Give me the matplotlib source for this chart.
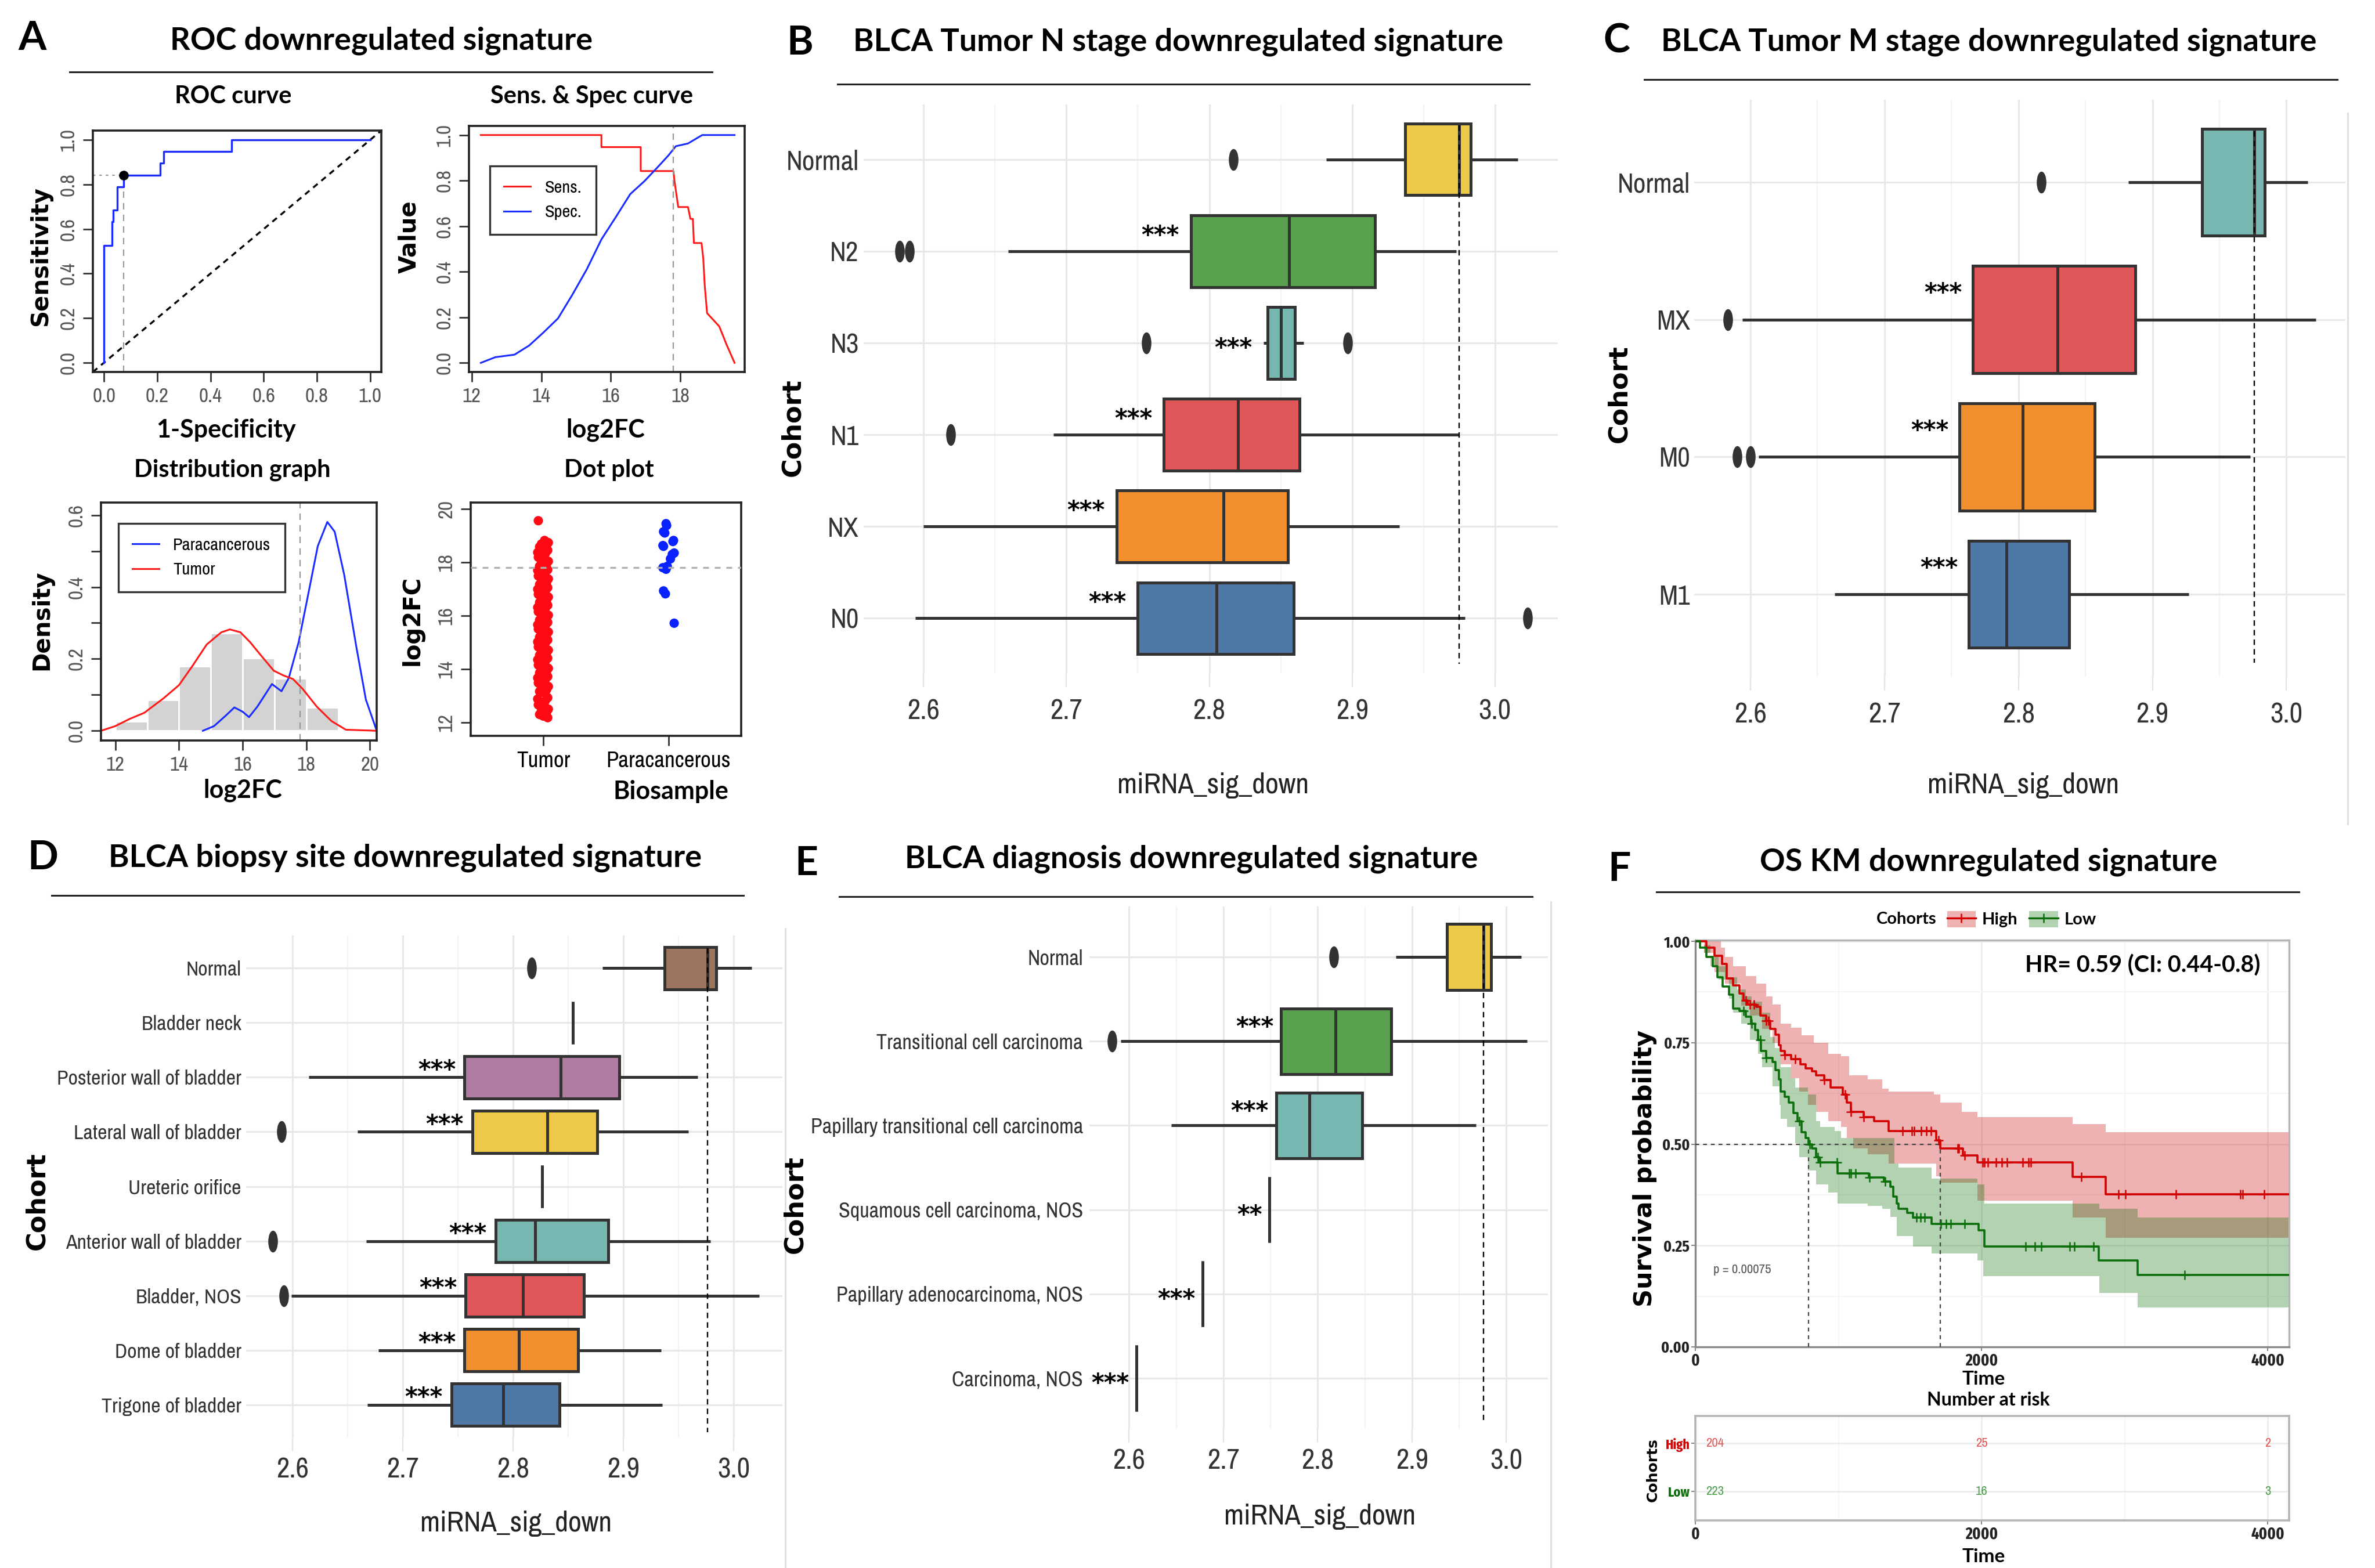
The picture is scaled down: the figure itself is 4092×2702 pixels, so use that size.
import numpy as np
import matplotlib
matplotlib.use('Agg')
import matplotlib.pyplot as plt
from matplotlib.path import Path
from matplotlib.transforms import Affine2D, offset_copy
from matplotlib.lines import Line2D
from matplotlib.patches import Patch
from matplotlib import font_manager as fm
from matplotlib.font_manager import FontProperties
import warnings, logging
warnings.filterwarnings('ignore')
logging.getLogger('matplotlib.font_manager').setLevel(logging.ERROR)

TITLE = ['Lato', 'DejaVu Sans']
VB = ['DejaVu Sans']
plt.rcParams['font.family'] = ['Liberation Sans', 'DejaVu Sans']

# ======================= DATA =======================
# ---- Panel A: ROC ----
roc_fpr = [0, 0, 0.03, 0.03, 0.035, 0.035, 0.05, 0.05, 0.073, 0.073, 0.21, 0.21, 0.224, 0.224, 0.48, 0.48, 1.0]
roc_tpr = [0, 0.526, 0.526, 0.632, 0.632, 0.684, 0.684, 0.789, 0.789, 0.842, 0.842, 0.895, 0.895, 0.947, 0.947, 1.0, 1.0]
roc_best_fpr = 0.073
roc_best_tpr = 0.842
cutoff = 17.8
# ---- Sens & Spec ----
sens_x = [12.26, 15.73, 15.73, 16.86, 16.86, 17.80, 17.83, 17.94, 18.22, 18.29, 18.36, 18.39, 18.61, 18.66, 18.70, 18.77, 18.91, 19.12, 19.33, 19.56]
sens_y = [1.0, 1.0, 0.947, 0.947, 0.842, 0.842, 0.80, 0.684, 0.684, 0.632, 0.632, 0.526, 0.526, 0.457, 0.343, 0.218, 0.195, 0.16, 0.08, 0.0]
spec_x = [12.26, 12.68, 13.23, 13.65, 14.06, 14.48, 14.89, 15.31, 15.73, 16.14, 16.56, 16.97, 17.39, 17.66, 17.87, 18.22, 18.63, 19.56]
spec_y = [0.0, 0.025, 0.036, 0.076, 0.133, 0.195, 0.298, 0.411, 0.542, 0.639, 0.741, 0.798, 0.866, 0.911, 0.951, 0.963, 1.0, 1.0]
# ---- Distribution ----
hist_edges = [12, 13, 14, 15, 16, 17, 18, 19]
hist_h = [0.027, 0.0855, 0.18, 0.272, 0.202, 0.146, 0.065]
tumor_dx = [11.55, 12.0, 12.45, 12.91, 13.51, 14.0, 14.42, 14.87, 15.33, 15.6, 15.93, 16.23, 16.6, 16.98, 17.28, 17.58, 17.88, 18.33, 18.79, 19.24, 20.2]
tumor_dy = [0.0, 0.013, 0.033, 0.05, 0.09, 0.127, 0.18, 0.24, 0.274, 0.282, 0.274, 0.247, 0.207, 0.167, 0.154, 0.144, 0.117, 0.067, 0.027, 0.003, 0.0]
para_dx = [14.75, 15.1, 15.48, 15.74, 16.0, 16.2, 16.46, 16.92, 17.22, 17.45, 17.76, 18.06, 18.36, 18.66, 18.89, 19.19, 19.57, 19.87, 20.2]
para_dy = [0.0, 0.013, 0.043, 0.065, 0.053, 0.038, 0.067, 0.13, 0.11, 0.147, 0.247, 0.38, 0.514, 0.581, 0.554, 0.434, 0.234, 0.087, 0.003]
# ---- Dot plot ----
dot_groups = ['Tumor', 'Paracancerous']
tumor_fc = [19.56, 18.82, 18.74, 18.69, 18.61, 18.58, 18.49, 18.45, 18.37, 18.31, 18.22, 18.19, 18.1, 18.04, 17.98,
            17.93, 17.86, 17.79, 17.72, 17.7, 17.61, 17.55, 17.49, 17.42, 17.38, 17.3, 17.21, 17.17, 17.12, 17.05,
            16.99, 16.9, 16.86, 16.8, 16.73, 16.7, 16.62, 16.55, 16.5, 16.44, 16.39, 16.31, 16.26, 16.2, 16.15,
            16.08, 16.02, 15.97, 15.9, 15.84, 15.81, 15.75, 15.66, 15.6, 15.57, 15.5, 15.44, 15.39, 15.32, 15.28,
            15.2, 15.14, 15.09, 15.02, 14.96, 14.9, 14.83, 14.79, 14.71, 14.66, 14.6, 14.52, 14.47, 14.41, 14.35,
            14.28, 14.22, 14.15, 14.11, 14.03, 13.97, 13.9, 13.86, 13.78, 13.72, 13.67, 13.6, 13.53, 13.48, 13.4,
            13.35, 13.29, 13.22, 13.16, 13.12, 12.93, 12.88, 12.8, 12.72, 12.66, 12.57, 12.5, 12.44, 12.36, 12.3,
            12.24, 12.18]
tumor_jit = [-0.04, 0.01, 0.04, -0.015, 0.025, -0.03, 0.0, 0.035, -0.045, 0.015, -0.005]
para_fc = [19.45, 19.38, 19.15, 19.1, 18.82, 18.78, 18.63, 18.6, 18.35, 18.3, 18.13, 17.85, 17.8, 17.74, 16.93, 16.82, 15.72]
para_jit = [-0.02, -0.015, -0.04, -0.03, 0.04, 0.035, -0.045, -0.04, 0.045, 0.03, 0.015, -0.01, -0.045, -0.02, -0.04, -0.025, 0.045]

# ---- Panel B: N stage ----
b_cats = ['Normal', 'N2', 'N3', 'N1', 'NX', 'N0']
b_whislo = [2.882, 2.659, 2.838, 2.691, 2.600, 2.594]
b_q1 = [2.937, 2.787, 2.841, 2.768, 2.735, 2.750]
b_med = [2.975, 2.856, 2.850, 2.820, 2.810, 2.805]
b_q3 = [2.983, 2.916, 2.860, 2.863, 2.855, 2.859]
b_whishi = [3.016, 2.973, 2.866, 2.975, 2.933, 2.979]
b_fliers = [[2.817], [2.583, 2.590], [2.756, 2.897], [2.619], [], [3.023]]
b_stars = ['', '***', '***', '***', '***', '***']
b_colors = ['#EDC948', '#59A14F', '#76B7B2', '#E15759', '#F28E2B', '#4E79A7']

# ---- Panel C: M stage ----
c_cats = ['Normal', 'MX', 'M0', 'M1']
c_whislo = [2.882, 2.594, 2.606, 2.663]
c_q1 = [2.937, 2.766, 2.756, 2.763]
c_med = [2.976, 2.829, 2.803, 2.791]
c_q3 = [2.984, 2.887, 2.857, 2.838]
c_whishi = [3.016, 3.022, 2.973, 2.927]
c_fliers = [[2.817], [2.583], [2.590, 2.600], []]
c_stars = ['', '***', '***', '***']
c_colors = ['#76B7B2', '#E15759', '#F28E2B', '#4E79A7']

# ---- Panel D: biopsy site ----
d_cats = ['Normal', 'Bladder neck', 'Posterior wall of bladder', 'Lateral wall of bladder', 'Ureteric orifice',
          'Anterior wall of bladder', 'Bladder, NOS', 'Dome of bladder', 'Trigone of bladder']
d_whislo = [2.881, 2.854, 2.615, 2.659, 2.826, 2.667, 2.599, 2.678, 2.668]
d_q1 = [2.937, 2.854, 2.756, 2.763, 2.826, 2.784, 2.757, 2.756, 2.744]
d_med = [2.976, 2.854, 2.843, 2.831, 2.826, 2.820, 2.809, 2.805, 2.791]
d_q3 = [2.984, 2.854, 2.896, 2.876, 2.826, 2.886, 2.864, 2.859, 2.842]
d_whishi = [3.016, 2.854, 2.967, 2.959, 2.826, 2.979, 3.023, 2.934, 2.935]
d_fliers = [[2.817], [], [], [2.590], [], [2.582], [2.592], [], []]
d_stars = ['', '', '***', '***', '', '***', '***', '***', '***']
d_colors = ['#9C755F', '#FF9DA7', '#B07AA1', '#EDC948', '#59A14F', '#76B7B2', '#E15759', '#F28E2B', '#4E79A7']

# ---- Panel E: diagnosis ----
e_cats = ['Normal', 'Transitional cell carcinoma', 'Papillary transitional cell carcinoma',
          'Squamous cell carcinoma, NOS', 'Papillary adenocarcinoma, NOS', 'Carcinoma, NOS']
e_whislo = [2.883, 2.591, 2.645, 2.749, 2.678, 2.608]
e_q1 = [2.937, 2.761, 2.756, 2.749, 2.678, 2.608]
e_med = [2.976, 2.819, 2.791, 2.749, 2.678, 2.608]
e_q3 = [2.984, 2.878, 2.847, 2.749, 2.678, 2.608]
e_whishi = [3.016, 3.022, 2.968, 2.749, 2.678, 2.608]
e_fliers = [[2.817], [2.582], [], [], [], []]
e_stars = ['', '***', '***', '**', '***', '***']
e_colors = ['#EDC948', '#59A14F', '#76B7B2', '#E15759', '#F28E2B', '#4E79A7']

# ---- Panel F: KM ----
high_t = [0, 77, 134, 185, 221, 265, 308, 337, 366, 424, 453, 496, 525, 561, 583, 597, 626, 669, 735, 771, 814, 843,
          901, 944, 1031, 1060, 1089, 1176, 1248, 1349, 1682, 1711, 1870, 1971, 2637, 2868, 4150]
high_s = [1.0, 0.985, 0.965, 0.945, 0.908, 0.891, 0.871, 0.854, 0.844, 0.838, 0.817, 0.804, 0.784, 0.770, 0.744, 0.730,
          0.720, 0.710, 0.697, 0.687, 0.680, 0.670, 0.658, 0.640, 0.623, 0.603, 0.579, 0.566, 0.556, 0.532, 0.509,
          0.489, 0.472, 0.455, 0.419, 0.377, 0.377]
low_t = [0, 33, 77, 120, 156, 192, 236, 265, 308, 351, 388, 416, 438, 460, 496, 539, 561, 583, 597, 626, 655, 684, 713,
         742, 771, 792, 814, 843, 865, 995, 1212, 1320, 1364, 1385, 1407, 1421, 1479, 1523, 1653, 1978, 2022, 2820,
         3091, 4150]
low_s = [1.0, 0.985, 0.962, 0.938, 0.911, 0.888, 0.868, 0.834, 0.828, 0.814, 0.797, 0.781, 0.757, 0.730, 0.713, 0.703,
         0.683, 0.660, 0.630, 0.616, 0.603, 0.576, 0.556, 0.529, 0.515, 0.500, 0.489, 0.468, 0.455, 0.428, 0.418, 0.408,
         0.395, 0.371, 0.354, 0.341, 0.331, 0.319, 0.304, 0.287, 0.248, 0.213, 0.178, 0.178]
high_up_t = [0, 178, 207, 265, 351, 424, 496, 539, 597, 669, 742, 829, 930, 1017, 1074, 1205, 1306, 1349, 1667, 1711,
             1862, 1971, 2637, 2868, 4150]
high_up_v = [1.0, 0.985, 0.962, 0.938, 0.915, 0.895, 0.864, 0.844, 0.797, 0.787, 0.768, 0.750, 0.723, 0.717, 0.670,
             0.660, 0.636, 0.630, 0.623, 0.603, 0.579, 0.566, 0.550, 0.529, 0.529]
high_lo_t = [0, 62, 134, 207, 322, 380, 467, 539, 597, 669, 727, 785, 843, 930, 1017, 1060, 1103, 1205, 1349, 1682,
             1711, 1971, 2637, 2868, 4150]
high_lo_v = [1.0, 0.972, 0.925, 0.895, 0.841, 0.817, 0.784, 0.750, 0.697, 0.663, 0.630, 0.596, 0.579, 0.556, 0.542,
             0.515, 0.489, 0.475, 0.452, 0.421, 0.405, 0.360, 0.319, 0.269, 0.269]
low_up_t = [0, 62, 106, 163, 221, 294, 351, 395, 467, 525, 554, 597, 669, 698, 785, 843, 872, 973, 1017, 1393, 1421,
            1653, 1971, 2022, 2823, 3091, 4150]
low_up_v = [1.0, 0.992, 0.965, 0.938, 0.911, 0.881, 0.864, 0.851, 0.824, 0.764, 0.737, 0.690, 0.663, 0.640, 0.623,
            0.556, 0.542, 0.532, 0.515, 0.452, 0.442, 0.415, 0.401, 0.354, 0.340, 0.319, 0.319]
low_lo_t = [0, 62, 106, 163, 236, 265, 322, 380, 438, 467, 539, 590, 597, 640, 698, 727, 785, 843, 930, 995, 1205,
            1306, 1364, 1407, 1523, 1653, 1971, 2014, 2823, 3091, 4150]
low_lo_v = [1.0, 0.972, 0.938, 0.905, 0.858, 0.824, 0.797, 0.757, 0.723, 0.690, 0.643, 0.596, 0.562, 0.542, 0.502,
            0.468, 0.435, 0.401, 0.381, 0.354, 0.348, 0.341, 0.321, 0.274, 0.247, 0.230, 0.213, 0.175, 0.133, 0.098,
            0.098]
high_cens = [351, 380, 409, 496, 510, 626, 698, 901, 1045, 1089, 1176, 1450, 1515, 1530, 1580, 1616, 1645, 1700, 1834,
             1841, 1884, 2007, 2022, 2043, 2101, 2140, 2177, 2289, 2329, 2343, 2698, 2958, 3004, 3360, 3811, 3825, 3977]
low_cens = [336, 395, 453, 496, 727, 800, 857, 872, 988, 1074, 1089, 1118, 1219, 1328, 1544, 1573, 1602, 1718, 1754,
            1783, 1884, 2307, 2375, 2416, 2618, 2647, 2784, 3420]
km_groups = ['High', 'Low']
risk_times = [0, 2000, 4000]
risk_high = [204, 25, 2]
risk_low = [223, 16, 3]
hr_text = 'HR= 0.59 (CI: 0.44-0.8)'
p_text = 'p = 0.00075'


# ======================= FONTS (most condensed sans available) =======================
def _weight(w):
    if isinstance(w, str):
        return fm.weight_dict.get(w.lower(), 400)
    return int(w)


def find_narrow(bold):
    prefs = ['Liberation Sans Narrow', 'Arial Narrow', 'Noto Sans', 'Roboto', 'Open Sans', 'DejaVu Sans']
    found = []
    for f in fm.fontManager.ttflist:
        nm = f.name
        low = nm.lower()
        if 'mono' in low or 'serif' in low or 'cjk' in low or 'display' in low:
            continue
        fn = f.fname.lower().replace('-', '').replace('_', '').replace(' ', '')
        st = str(f.stretch).lower().replace('-', '')
        if 'ultra' in fn or 'ultra' in st or 'italic' in fn or f.style != 'normal':
            continue
        if 'extracondensed' in fn or 'extracondensed' in st:
            degree = 0
        elif 'semicondensed' in fn or 'semicondensed' in st:
            degree = 2
        elif 'condensed' in fn or 'condensed' in st or 'narrow' in fn or 'narrow' in low:
            degree = 1
        else:
            continue
        if 'narrow' in low:
            degree = 0
        w = _weight(f.weight)
        if bold and w < 600:
            continue
        if not bold and not (350 <= w <= 500):
            continue
        rank = next((i for i, p in enumerate(prefs) if nm.startswith(p)), len(prefs))
        found.append((degree, rank, abs(w - (700 if bold else 400)), f.fname))
    if not found:
        return None
    found.sort()
    return found[0][3]


_nr = find_narrow(False)
_nb = find_narrow(True)
NFP = FontProperties(fname=_nr) if _nr else FontProperties(family=['Liberation Sans', 'DejaVu Sans'], weight='normal')
NFPB = FontProperties(fname=_nb) if _nb else FontProperties(family=['Liberation Sans', 'DejaVu Sans'], weight='bold')

# ======================= FIGURE =======================
W, H = 4092, 2702
fig = plt.figure(figsize=(W / 100, H / 100), dpi=100)
fig.patch.set_facecolor('white')
REND = fig.canvas.get_renderer()


def sized(fp, size):
    p = fp.copy()
    p.set_size(size)
    return p


def fit_size(s, fp, target, maxsize):
    t = fig.text(0, 0, s, fontproperties=sized(fp, 100))
    w = t.get_window_extent(renderer=REND).width
    t.remove()
    return min(maxsize, 100.0 * target / w)


def fitted(s, fp, target, maxsize):
    return sized(fp, fit_size(s, fp, target, maxsize))


def add_ax(l, t, r, b):
    return fig.add_axes([l / W, 1 - b / H, (r - l) / W, (b - t) / H])


def ftext(x, y, s, **kw):
    kw.setdefault('ha', 'center')
    kw.setdefault('va', 'center')
    return fig.text(x / W, 1 - y / H, s, **kw)


def fline(x0, x1, y0, y1, **kw):
    fig.add_artist(Line2D([x0 / W, x1 / W], [1 - y0 / H, 1 - y1 / H], transform=fig.transFigure, **kw))


def letter(x, y, s):
    ftext(x, y, s, fontsize=50, fontweight='bold', family=TITLE)


def title(x, y, s, x0, x1, yl):
    ftext(x, y, s, fontsize=39, fontweight='bold', family=TITLE)
    fline(x0, x1, yl, yl, color='#222222', lw=2.2)


# ---- titles & letters ----
letter(56, 67, 'A'); title(657, 70, 'ROC downregulated signature', 120, 1227, 124)
letter(1378, 74, 'B'); title(2030, 72, 'BLCA Tumor N stage downregulated signature', 1443, 2635, 145)
letter(2785, 71, 'C'); title(3427, 72, 'BLCA Tumor M stage downregulated signature', 2833, 4027, 137)
letter(74, 1478, 'D'); title(698, 1478, 'BLCA biopsy site downregulated signature', 89, 1281, 1543)
letter(1389, 1489, 'E'); title(2053, 1480, 'BLCA diagnosis downregulated signature', 1446, 2640, 1545)
letter(2790, 1498, 'F'); title(3426, 1485, 'OS KM downregulated signature', 2854, 3961, 1537)

# faint separators
fline(1353, 1353, 1600, 2702, color='#dddddd', lw=2)
fline(2672, 2672, 1554, 2702, color='#dddddd', lw=2)
fline(4045, 4045, 195, 1420, color='#dddddd', lw=2)

# ======================= PANEL A (base R style) =======================
TICK_A = fitted('0.0', NFP, 40, 26)


def style_r(ax):
    for sp in ax.spines.values():
        sp.set_linewidth(2.6)
        sp.set_color('#222222')
    ax.tick_params(length=12, width=2, pad=7, colors='#333333', labelcolor='#555555')
    ax.tick_params(axis='y', labelrotation=90)
    for lab in ax.get_xticklabels() + ax.get_yticklabels():
        lab.set_fontproperties(TICK_A)
    for lab in ax.get_yticklabels():
        lab.set_va('center')


def sub_title(x, y, s):
    ftext(x, y, s, fontsize=30, fontweight='bold', family=TITLE)


def r_xlabel(x, y, s):
    ftext(x, y, s, fontsize=31, fontweight='bold', family=TITLE)


def r_ylabel(x, y, s):
    ftext(x, y, s, fontsize=29, fontweight='bold', family=VB, rotation=90)


# ROC curve
sub_title(402, 166, 'ROC curve')
ax = add_ax(160, 225, 657, 641)
ax.plot(roc_fpr, roc_tpr, color='#1a2cff', lw=2.4, zorder=3)
ax.axline((0, 0), (1, 1), color='black', ls=(0, (3, 2.5)), lw=2.4)
ax.plot([roc_best_fpr, roc_best_fpr], [-0.042, roc_best_tpr], color='#999999', ls=(0, (5, 4)), lw=1.6)
ax.plot([-0.042, roc_best_fpr], [roc_best_tpr, roc_best_tpr], color='#999999', ls=(0, (2, 3)), lw=1.6)
ax.plot([roc_best_fpr], [roc_best_tpr], 'o', color='black', ms=11, zorder=4)
ax.set_xlim(-0.042, 1.042); ax.set_ylim(-0.042, 1.042)
tk = [0, 0.2, 0.4, 0.6, 0.8, 1.0]
ax.set_xticks(tk); ax.set_xticklabels(['%.1f' % v for v in tk])
ax.set_yticks(tk); ax.set_yticklabels(['%.1f' % v for v in tk])
style_r(ax)
r_xlabel(390, 741, '1-Specificity')
r_ylabel(70, 441, 'Sensitivity')

LEG_FP = fitted('Paracancerous', NFP, 168, 26)

# Sens & Spec curve
sub_title(1020, 166, 'Sens. & Spec curve')
ax = add_ax(808, 217, 1283, 641)
ax.plot(sens_x, sens_y, color='#ff1a1a', lw=2.2, label='Sens.')
ax.plot(spec_x, spec_y, color='#1a2cff', lw=2.2, label='Spec.')
ax.axvline(cutoff, color='#999999', ls=(0, (5, 4)), lw=1.6)
ax.set_xlim(11.92, 19.85); ax.set_ylim(-0.04, 1.04)
ax.set_xticks([12, 14, 16, 18]); ax.set_xticklabels(['12', '14', '16', '18'])
ax.set_yticks(tk); ax.set_yticklabels(['%.1f' % v for v in tk])
style_r(ax)
lg = ax.legend(loc='upper left', bbox_to_anchor=(0.044, 0.874), prop=LEG_FP, frameon=True, fancybox=False,
               edgecolor='black', handlelength=1.5, borderpad=0.8, labelspacing=0.5)
lg.get_frame().set_linewidth(2.4)
r_xlabel(1043, 741, 'log2FC')
r_ylabel(705, 408, 'Value')

# Distribution graph
sub_title(400, 810, 'Distribution graph')
ax = add_ax(174, 866, 649, 1276)
ax.bar(hist_edges[:-1], hist_h, width=np.diff(hist_edges), align='edge', color='#d3d3d3', edgecolor='white', lw=2)
ax.plot(para_dx, para_dy, color='#1a2cff', lw=2.2, label='Paracancerous')
ax.plot(tumor_dx, tumor_dy, color='#ff1a1a', lw=2.2, label='Tumor')
ax.axvline(cutoff, color='#999999', ls=(0, (5, 4)), lw=1.6)
ax.set_xlim(11.55, 20.21); ax.set_ylim(-0.027, 0.635)
ax.set_xticks([12, 14, 16, 18, 20]); ax.set_xticklabels(['12', '14', '16', '18', '20'])
yt = [0, 0.1, 0.2, 0.3, 0.4, 0.5, 0.6]
ax.set_yticks(yt); ax.set_yticklabels(['0.0', '', '0.2', '', '0.4', '', '0.6'])
style_r(ax)
lg = ax.legend(loc='upper left', bbox_to_anchor=(0.031, 0.95), prop=LEG_FP, frameon=True, fancybox=False,
               edgecolor='black', handlelength=1.5, borderpad=0.8, labelspacing=0.5)
lg.get_frame().set_linewidth(2.4)
r_xlabel(418, 1362, 'log2FC')
r_ylabel(72, 1069, 'Density')

# Dot plot
sub_title(1049, 810, 'Dot plot')
ax = add_ax(811, 866, 1277, 1268)
tx = [1 + tumor_jit[i % len(tumor_jit)] for i in range(len(tumor_fc))]
ax.scatter(tx, tumor_fc, s=135, color='#ff0a14', edgecolors='none', zorder=3)
px = [2 + j for j in para_jit]
ax.scatter(px, para_fc, s=135, color='#0a22ff', edgecolors='none', zorder=3)
ax.axhline(cutoff, color='#b0b0b0', ls=(0, (3, 3)), lw=2.4, zorder=4)
ax.set_xlim(0.42, 2.58); ax.set_ylim(11.5, 20.24)
ax.set_yticks([12, 14, 16, 18, 20]); ax.set_yticklabels(['12', '14', '16', '18', '20'])
ax.set_xticks([1, 2]); ax.set_xticklabels(dot_groups)
style_r(ax)
for lab in ax.get_xticklabels():
    lab.set_family(TITLE); lab.set_fontweight('bold'); lab.set_fontsize(28); lab.set_color('black')
r_xlabel(1156, 1364, 'Biosample')
r_ylabel(711, 1069, 'log2FC')

# ======================= PANELS B-E (ggplot style) =======================
EDGE = '#333333'
ELL = Path.unit_circle().transformed(Affine2D().scale(0.42, 1.0))
XT_FP = fitted('2.6', NFP, 56, 40)
XL_FP = fitted('miRNA_sig_down', NFP, 330, 46)


def gg_panel(rect, cats, whislo, q1, med, q3, whishi, fliers, stars, colors, ylab_fp, xpad, ypad):
    ax = add_ax(*rect)
    n = len(cats)
    stats = [dict(med=med[i], q1=q1[i], q3=q3[i], whislo=whislo[i], whishi=whishi[i], fliers=fliers[i],
                  label=cats[i]) for i in range(n)]
    pos = np.arange(n)
    res = ax.bxp(stats, positions=pos, widths=0.78, orientation='horizontal', patch_artist=True, showcaps=False,
                 manage_ticks=False,
                 boxprops=dict(edgecolor=EDGE, linewidth=3.6),
                 whiskerprops=dict(color=EDGE, linewidth=3.6, solid_capstyle='butt'),
                 medianprops=dict(color=EDGE, linewidth=3.6, solid_capstyle='butt'),
                 flierprops=dict(marker=ELL, markerfacecolor=EDGE, markeredgecolor=EDGE, markersize=26,
                                 linestyle='none'))
    for b, c in zip(res['boxes'], colors):
        b.set_facecolor(c)
    ax.set_xlim(2.558, 3.044)
    ax.set_ylim(n - 1 + 0.6, -0.6)
    ax.set_xticks([2.6, 2.7, 2.8, 2.9, 3.0])
    ax.set_xticklabels(['2.6', '2.7', '2.8', '2.9', '3.0'], fontproperties=XT_FP, color='#333333')
    ax.set_xticks([2.65, 2.75, 2.85, 2.95], minor=True)
    ax.set_yticks(pos)
    ax.set_yticklabels(cats, fontproperties=ylab_fp, color='#333333')
    ax.grid(True, which='major', axis='both', color='#e8e8e8', lw=2.2)
    ax.grid(True, which='minor', axis='x', color='#f3f3f3', lw=1.6)
    ax.set_axisbelow(True)
    for sp in ax.spines.values():
        sp.set_visible(False)
    ax.tick_params(which='minor', length=0)
    ax.tick_params(axis='y', length=0, pad=ypad)
    ax.tick_params(axis='x', which='major', length=17, width=1.6, color='#e3e3e3', pad=xpad)
    ax.vlines(med[0], -0.37, n - 1 + 0.5, colors='black', linestyles=(0, (4, 3)), lw=1.7, zorder=6)
    tr = offset_copy(ax.transData, fig=fig, y=-16, units='points')
    for i in range(n):
        if not stars[i]:
            continue
        spread = q3[i] - q1[i]
        if spread > 0.03:
            x, y = q1[i] - 0.008, i - 0.23
        else:
            x, y = min(whislo[i], q1[i]) - 0.008, i
        ax.text(x, y, stars[i], ha='right', va='baseline', transform=tr, family=VB, fontweight='bold',
                fontsize=30, color='black', zorder=7)
    return ax


def gg_xlabel(x, y):
    ftext(x, y, 'miRNA_sig_down', fontproperties=XL_FP, color='#222222')


def gg_ylabel(x, y):
    ftext(x, y, 'Cohort', fontsize=32, fontweight='bold', family=VB, rotation=90)


BC_FP = fitted('Normal', NFP, 125, 44)
D_FP = fitted('Posterior wall of bladder', NFP, 318, 38)
E_FP = fitted('Papillary transitional cell carcinoma', NFP, 470, 38)

gg_panel((1488, 180, 2684, 1160), b_cats, b_whislo, b_q1, b_med, b_q3, b_whishi, b_fliers, b_stars, b_colors,
         BC_FP, 14, 6)
gg_xlabel(2090, 1354); gg_ylabel(1366, 737)

gg_panel((2919, 172, 4041, 1166), c_cats, c_whislo, c_q1, c_med, c_q3, c_whishi, c_fliers, c_stars, c_colors,
         BC_FP, 14, 5)
gg_xlabel(3486, 1354); gg_ylabel(2790, 679)

gg_panel((424, 1612, 1348, 2477), d_cats, d_whislo, d_q1, d_med, d_q3, d_whishi, d_fliers, d_stars, d_colors,
         D_FP, 7, 6)
gg_xlabel(889, 2626); gg_ylabel(64, 2070)

gg_panel((1877, 1562, 2667, 2462), e_cats, e_whislo, e_q1, e_med, e_q3, e_whishi, e_fliers, e_stars, e_colors,
         E_FP, 7, 8)
gg_xlabel(2274, 2614); gg_ylabel(1370, 2076)

# ======================= PANEL F (KM) =======================
RED_L, GRN_L = '#d20000', '#0b6e0b'
RED_F, GRN_F = '#c80000', '#006c00'


def step_eval(t, v, q):
    idx = np.searchsorted(np.asarray(t), np.asarray(q), side='right') - 1
    return np.asarray(v)[np.clip(idx, 0, None)]


def median_time(t, s):
    s = np.asarray(s)
    return np.asarray(t)[np.argmax(s <= 0.5)]


KY_FP = fitted('0.75', NFPB, 44, 26)
KX_FP = fitted('2000', NFPB, 56, 24)

ax = add_ax(2921, 1620, 3944, 2321)
for (ut, uv, lt, lv, col) in [(high_up_t, high_up_v, high_lo_t, high_lo_v, RED_F),
                              (low_up_t, low_up_v, low_lo_t, low_lo_v, GRN_F)]:
    tt = np.union1d(ut, lt)
    ax.fill_between(tt, step_eval(lt, lv, tt), step_eval(ut, uv, tt), step='post', color=col, alpha=0.3,
                    lw=0, zorder=2)
ax.step(high_t, high_s, where='post', color=RED_L, lw=2.6, zorder=4)
ax.step(low_t, low_s, where='post', color=GRN_L, lw=2.6, zorder=4)
ax.plot(high_cens, step_eval(high_t, high_s, high_cens), '+', color=RED_L, ms=11, mew=1.8, zorder=5)
ax.plot(low_cens, step_eval(low_t, low_s, low_cens), '+', color=GRN_L, ms=11, mew=1.8, zorder=5)
mh, ml = median_time(high_t, high_s), median_time(low_t, low_s)
ax.plot([0, max(mh, ml)], [0.5, 0.5], color='#444444', ls=(0, (3, 3)), lw=1.6, zorder=3)
ax.vlines([ml, mh], 0, 0.5, colors='#444444', linestyles=(0, (3, 3)), lw=1.6, zorder=3)
ax.set_xlim(0, 4150); ax.set_ylim(0, 1.003)
ax.set_xticks([0, 2000, 4000]); ax.set_xticks([1000, 3000], minor=True)
ax.set_xticklabels(['0', '2000', '4000'], fontproperties=KX_FP, color='#222222')
ax.set_yticks([0, 0.25, 0.5, 0.75, 1.0]); ax.set_yticks([0.125, 0.375, 0.625, 0.875], minor=True)
ax.set_yticklabels(['0.00', '0.25', '0.50', '0.75', '1.00'], fontproperties=KY_FP, color='#222222')
ax.grid(True, which='major', color='#ececec', lw=2)
ax.grid(True, which='minor', color='#f5f5f5', lw=1.4)
ax.set_axisbelow(True)
for sp in ax.spines.values():
    sp.set_color('#b5b5b5'); sp.set_linewidth(2.4)
ax.spines['left'].set_color('#888888'); ax.spines['bottom'].set_color('#888888')
ax.tick_params(which='minor', length=0)
ax.tick_params(which='major', length=5, width=1.5, color='#888888', pad=2)
ax.text(0.03, 0.19, p_text, transform=ax.transAxes, fontproperties=fitted(p_text, NFP, 100, 26), color='#555555',
        ha='left', va='center')
ftext(3692, 1664, hr_text, fontsize=28.5, fontweight='bold', family=TITLE)
ftext(2834, 2013, 'Survival probability', fontsize=31, fontweight='bold', family=VB, rotation=90)
ftext(3418, 2377, 'Time', fontsize=24, fontweight='bold', family=TITLE)

# legend
ftext(3285, 1584, 'Cohorts', fontsize=21, fontweight='bold', family=TITLE)
hh = (Patch(facecolor=RED_F, alpha=0.3, edgecolor='none'),
      Line2D([], [], color=RED_L, lw=2.4, marker='+', ms=12, mew=1.8))
hl = (Patch(facecolor=GRN_F, alpha=0.3, edgecolor='none'),
      Line2D([], [], color=GRN_L, lw=2.4, marker='+', ms=12, mew=1.8))
fig.legend([hh, hl], km_groups, loc='center left', bbox_to_anchor=(3340 / W, 1 - 1584 / H), ncol=2, frameon=False,
           prop=dict(family=TITLE, weight='bold', size=21), handlelength=1.7, handleheight=1.1, columnspacing=0.7,
           handletextpad=0.35, borderpad=0)

# risk table
ftext(3426, 2412, 'Number at risk', fontsize=23, fontweight='bold', family=TITLE)
axr = add_ax(2921, 2440, 3944, 2620)
axr.set_xlim(0, 4150); axr.set_ylim(-0.6, 1.57)
axr.set_xticks([0, 2000, 4000]); axr.set_xticks([1000, 3000], minor=True)
axr.set_xticklabels(['0', '2000', '4000'], fontproperties=KX_FP, color='#222222')
axr.set_yticks([1, 0])
axr.set_yticklabels(km_groups, fontproperties=fitted('High', NFPB, 42, 26))
for lab, col in zip(axr.get_yticklabels(), [RED_L, GRN_L]):
    lab.set_color(col)
axr.grid(True, which='major', color='#ececec', lw=2)
axr.grid(True, which='minor', axis='x', color='#f5f5f5', lw=1.4)
axr.set_axisbelow(True)
for sp in axr.spines.values():
    sp.set_color('#b5b5b5'); sp.set_linewidth(2.6)
axr.tick_params(which='minor', length=0)
axr.tick_params(which='major', length=5, width=1.5, color='#888888', pad=2)
RK_FP = fitted('204', NFP, 31, 26)
tr0 = offset_copy(axr.transData, fig=fig, x=13, units='points')
for row, vals, col in [(1, risk_high, '#e05a5a'), (0, risk_low, '#4f9f4f')]:
    for t, v in zip(risk_times, vals):
        if t == 0:
            axr.text(t, row, str(v), ha='left', va='center', transform=tr0, fontproperties=RK_FP, color=col)
        else:
            axr.text(t, row, str(v), ha='center', va='center', fontproperties=RK_FP, color=col)
ftext(3418, 2682, 'Time', fontsize=24, fontweight='bold', family=TITLE)
ftext(2848, 2533, 'Cohorts', fontsize=18, fontweight='bold', family=VB, rotation=90)

fig.savefig('out.png', dpi=100, facecolor='white')
